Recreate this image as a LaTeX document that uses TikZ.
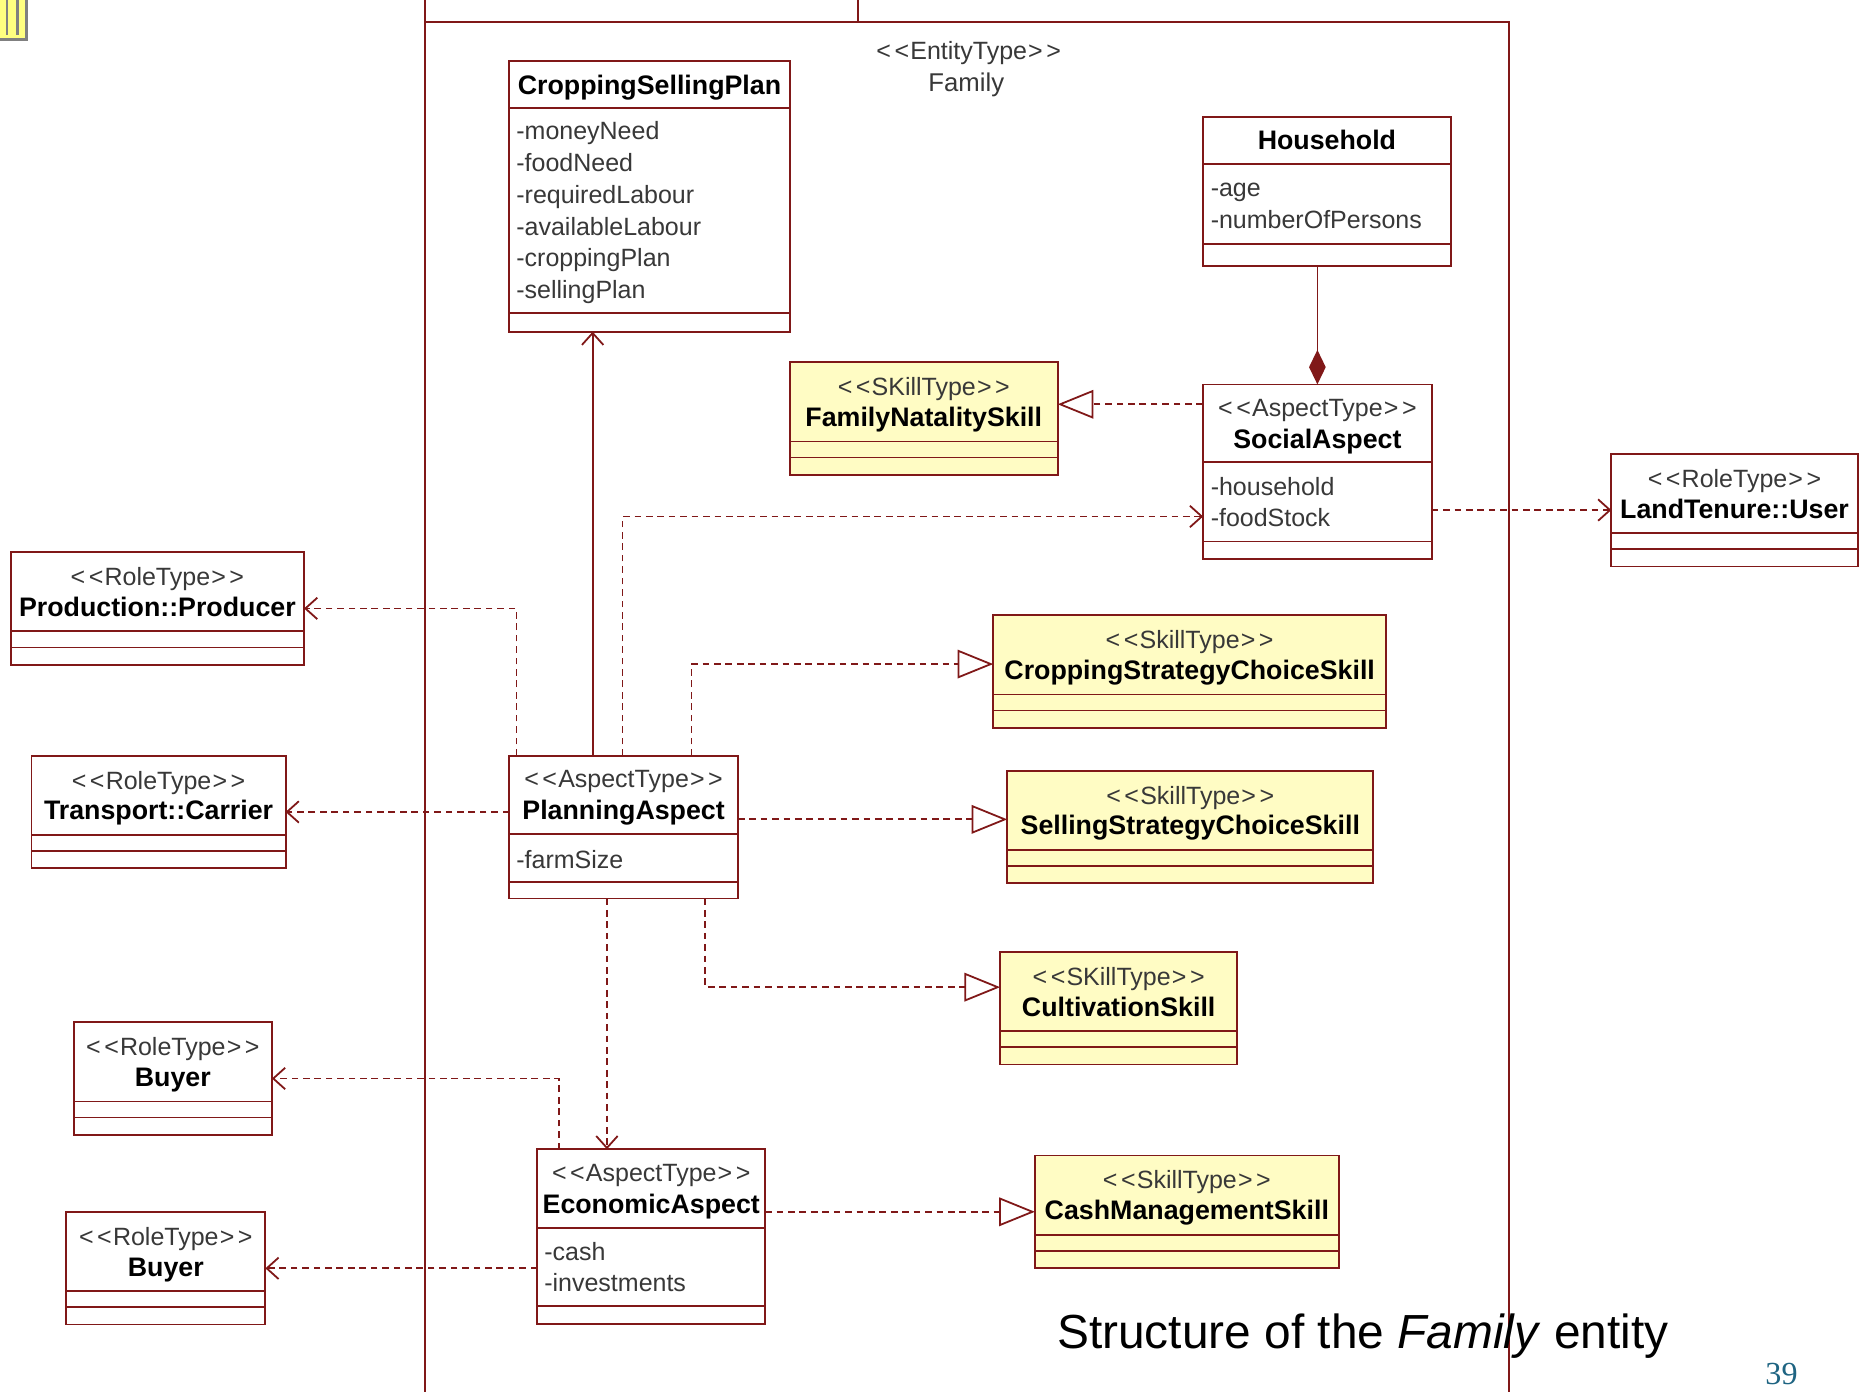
\documentclass[tikz,border=0pt]{standalone}
\usepackage{fontspec}
\setmainfont{Liberation Sans}
\newfontfamily\pagenumfont{Liberation Serif}
\usetikzlibrary{arrows.meta,calc}

\definecolor{umlred}{RGB}{128,24,24}
\definecolor{skillfill}{RGB}{255,252,196}
\definecolor{stgray}{gray}{0.22}
\definecolor{pagenum}{RGB}{30,100,130}
\definecolor{iconyellow}{RGB}{255,255,128}

% stereotype guillemets written as spaced angle brackets
\newcommand{\stereo}[1]{<\kern1.5pt<\kern0.5pt#1\kern0.5pt>\kern1.5pt>}

% plain class box: name, style, x1, y1, x2, y2
\newcommand{\umlbox}[6]{%
  \node[#2, minimum width={(#5-#3)*0.5pt}, minimum height={(#6-#4)*0.5pt}] (#1) at (#3,#4) {};}
% compartment separator at a depth below the top edge
\newcommand{\sepline}[2]{%
  \draw[link] ($(#1.north west)+(0,#2)$) -- ($(#1.north east)+(0,#2)$);}
% role / skill box: name, style, x1, y1, x2, stereotype, title
\newcommand{\rolebox}[7]{%
  \node[#2, minimum width={(#5-#3)*0.5pt}, minimum height=47.25pt] (#1) at (#3,#4) {};
  \sepline{#1}{66.5}
  \sepline{#1}{80}
  \node[sttext] (#1-st) at ($(#1.north)+(0,28)$) {\stereo{#6}};
  \node[nametext] (#1-n) at ($(#1.north)+(0,54)$) {#7};}

\begin{document}
\begin{tikzpicture}[x=0.5pt,y=-0.5pt,
  link/.style={draw=umlred, line width=0.75pt},
  classbox/.style={link, fill=white, rectangle, inner sep=0pt, outer sep=0pt, anchor=north west},
  skillbox/.style={classbox, fill=skillfill},
  sttext/.style={font=\fontsize{10.5}{12.6}\selectfont, text=stgray, anchor=base, inner sep=0pt},
  nametext/.style={font=\fontsize{11.25}{13}\selectfont\bfseries, anchor=base, inner sep=0pt},
  attrtext/.style={font=\fontsize{10.5}{12.6}\selectfont, text=stgray, anchor=base west, inner sep=0pt},
  dep/.style={link, dash pattern=on 2.8pt off 2pt, -{Straight Barb[length=5pt,width=9pt]}},
  real/.style={link, dash pattern=on 2.8pt off 2pt, -{Triangle[open,length=15pt,width=12pt]}},
  nav/.style={link, -{Straight Barb[length=5pt,width=9pt]}},
  comp/.style={link, -{Diamond[length=14.5pt,width=7pt]}},
]
\useasboundingbox (0,0) rectangle (1568,1169);
\clip (0,0) rectangle (1568,1169);
\fill[white] (0,0) rectangle (1568,1169);

% small toolbar icon in the corner
\draw[draw=gray, line width=1.25pt, fill=iconyellow] (-5,-5) rectangle (22.5,33.5);
\draw[gray, line width=1.1pt] (6,-5) -- (6,29) (14.5,-5) -- (14.5,29);

% package frame of the Family entity
\draw[link] (357,-20) rectangle (721,18.8);
\draw[link] (357,18.8) rectangle (1268,1200);
\node[sttext] (fam-st) at (814,50.4) {\stereo{EntityType}};
\node[sttext, font=\fontsize{10.8}{13}\selectfont] (fam-n) at (812,77) {Family};

% CroppingSellingPlan
\umlbox{csp}{classbox}{428}{51.3}{663.5}{278.7}
\sepline{csp}{39.7}
\sepline{csp}{212}
\node[nametext] (csp-n) at ($(csp.north)+(0,27.7)$) {CroppingSellingPlan};
\foreach \t [count=\i from 0] in {-moneyNeed,-foodNeed,-requiredLabour,-availableLabour,-croppingPlan,-sellingPlan}
  \node[attrtext] (csp-a\i) at ($(csp.north west)+(5.5,{66.3+26.64*\i})$) {\t};

% Household
\umlbox{hh}{classbox}{1011}{98.5}{1219}{223.6}
\sepline{hh}{39.5}
\sepline{hh}{106.5}
\node[nametext] (hh-n) at ($(hh.north)+(0,27)$) {Household};
\foreach \t [count=\i from 0] in {-age,-numberOfPersons}
  \node[attrtext] (hh-a\i) at ($(hh.north west)+(6,{66.9+26.64*\i})$) {\t};

% SocialAspect
\umlbox{sa}{classbox}{1011}{323}{1203}{470}
\sepline{sa}{65}
\sepline{sa}{132}
\node[sttext] (sa-st) at ($(sa.north)+(0,27)$) {\stereo{AspectType}};
\node[nametext] (sa-n) at ($(sa.north)+(0,53.7)$) {SocialAspect};
\foreach \t [count=\i from 0] in {-household,-foodStock}
  \node[attrtext] (sa-a\i) at ($(sa.north west)+(6,{93+26.64*\i})$) {\t};

% PlanningAspect
\umlbox{pa}{classbox}{428}{635}{620}{755}
\sepline{pa}{66}
\sepline{pa}{106}
\node[sttext] (pa-st) at ($(pa.north)+(0,27)$) {\stereo{AspectType}};
\node[nametext] (pa-n) at ($(pa.north)+(0,54)$) {PlanningAspect};
\node[attrtext] (pa-a0) at ($(pa.north west)+(5.5,94.7)$) {-farmSize};

% EconomicAspect
\umlbox{ea}{classbox}{451.5}{965.7}{643}{1112.6}
\sepline{ea}{66.3}
\sepline{ea}{131.8}
\node[sttext] (ea-st) at ($(ea.north)+(0,27)$) {\stereo{AspectType}};
\node[nametext] (ea-n) at ($(ea.north)+(0,53.8)$) {EconomicAspect};
\foreach \t [count=\i from 0] in {-cash,-investments}
  \node[attrtext] (ea-a\i) at ($(ea.north west)+(5.5,{93.3+26.64*\i})$) {\t};

% skills
\rolebox{fns}{skillbox}{663.7}{304.5}{888.8}{SKillType}{FamilyNatalitySkill}
\rolebox{cscs}{skillbox}{834.6}{517}{1164.7}{SkillType}{CroppingStrategyChoiceSkill}
\rolebox{sscs}{skillbox}{846.4}{647.6}{1154}{SkillType}{SellingStrategyChoiceSkill}
\rolebox{cult}{skillbox}{840.4}{800}{1039.6}{SKillType}{CultivationSkill}
\rolebox{cms}{skillbox}{869.6}{971}{1125}{SkillType}{CashManagementSkill}

% roles
\rolebox{ltu}{classbox}{1354}{381.5}{1561}{RoleType}{LandTenure::User}
\rolebox{prod}{classbox}{9}{464}{255.5}{RoleType}{Production::Producer}
\rolebox{car}{classbox}{26.5}{635}{240}{RoleType}{Transport::Carrier}
\rolebox{buy1}{classbox}{62}{859}{228.5}{RoleType}{Buyer}
\rolebox{buy2}{classbox}{55.7}{1018.5}{223}{RoleType}{Buyer}

% attachment points
\coordinate (sa-l1) at ($(sa.north west)+(0,16.7)$);
\coordinate (sa-l2) at ($(sa.north west)+(0,111)$);
\coordinate (sa-r) at ($(sa.north east)+(0,105.6)$);
\coordinate (pa-t0) at ($(pa.north west)+(6,0)$);
\coordinate (pa-t1) at ($(pa.north west)+(70,0)$);
\coordinate (pa-t2) at ($(pa.north west)+(95,0)$);
\coordinate (pa-t3) at ($(pa.north west)+(153,0)$);
\coordinate (pa-r) at ($(pa.north east)+(0,53.5)$);
\coordinate (pa-b1) at ($(pa.south west)+(82,0)$);
\coordinate (pa-b2) at ($(pa.south west)+(164.6,0)$);
\coordinate (cscs-l) at ($(cscs.north west)+(0,41)$);
\coordinate (cult-l) at ($(cult.north west)+(0,29.5)$);
\coordinate (ea-t) at ($(ea.north west)+(18,0)$);

% connectors
\draw[comp] (sa.north |- hh.south) -- (sa.north);
\draw[real] (sa-l1) -- (sa-l1 -| fns.east);
\draw[dep] (sa-r) -- (sa-r -| ltu.west);
\draw[nav] (pa-t1) -- (pa-t1 |- csp.south);
\draw[dep] (pa-t2) |- (sa-l2);
\draw[dep] (pa-t0) |- (prod.east);
\draw[real] (pa-t3) |- (cscs-l);
\draw[dep] (car.east -| pa.west) -- (car.east);
\draw[real] (pa-r) -- (pa-r -| sscs.west);
\draw[real] (pa-b2) |- (cult-l);
\draw[dep] (pa-b1) -- (pa-b1 |- ea.north);
\draw[dep] (ea-t) |- (buy1.east);
\draw[dep] (buy2.east -| ea.west) -- (buy2.east);
\draw[real] (cms.west -| ea.east) -- (cms.west);

% caption and page number
\node[anchor=base west, inner sep=0pt, font=\fontsize{20.1}{24}\selectfont] (cap) at (888,1133) {Structure of the \textit{Family} entity};
\node[anchor=base, inner sep=0pt, text=pagenum, font=\pagenumfont\fontsize{13.5}{16}\selectfont] (pnum) at (1497,1163) {39};
\end{tikzpicture}
\end{document}
